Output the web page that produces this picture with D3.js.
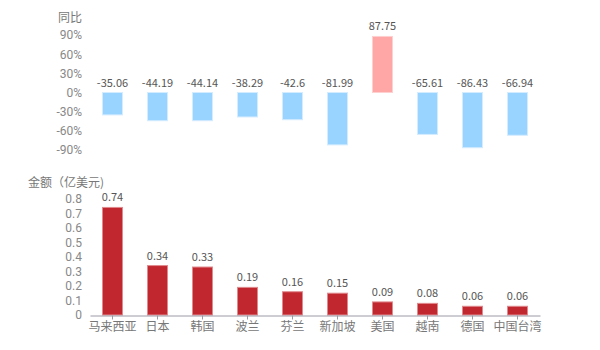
<!DOCTYPE html>
<html>
<head>
<meta charset="utf-8">
<script src="https://cdn.jsdelivr.net/npm/d3@7"></script>
<style>
  body { margin: 0; background: #fff; }
  svg text { font-family: "Noto Sans CJK SC", "Noto Sans", sans-serif; }
</style>
</head>
<body>
<script>
"use strict";
const countries = ["马来西亚", "日本", "韩国", "波兰", "芬兰", "新加坡", "美国", "越南", "德国", "中国台湾"];
const growth = [-35.06, -44.19, -44.14, -38.29, -42.6, -81.99, 87.75, -65.61, -86.43, -66.94];
const amount = [0.74, 0.34, 0.33, 0.19, 0.16, 0.15, 0.09, 0.08, 0.06, 0.06];
const growthTicks = [90, 60, 30, 0, -30, -60, -90];
const amountTicks = [0, 0.1, 0.2, 0.3, 0.4, 0.5, 0.6, 0.7, 0.8];

const width = 600, height = 350;
const svg = d3.select("body").append("svg")
  .attr("width", width)
  .attr("height", height);

const x = d3.scaleBand()
  .domain(countries)
  .range([90, 540])
  .paddingInner(0.5556)
  .paddingOuter(0.2778);

// top chart: year on year
const yTop = d3.scaleLinear().domain([-90, 90]).range([150, 35]);

svg.append("text")
  .attr("x", 82).attr("y", 22)
  .attr("text-anchor", "end")
  .attr("font-size", 12).attr("fill", "#777")
  .text("同比");

const topAxis = svg.append("g")
  .attr("transform", "translate(82,0)")
  .call(d3.axisLeft(yTop).tickValues(growthTicks).tickSize(0).tickPadding(0).tickFormat(d => d + "%"));
topAxis.select(".domain").remove();
topAxis.selectAll("text").attr("font-size", 12).attr("fill", "#888").style("font-family", "Roboto, sans-serif");

svg.append("g").selectAll("rect")
  .data(growth)
  .join("rect")
  .attr("x", (d, i) => x(countries[i]))
  .attr("width", x.bandwidth())
  .attr("y", d => Math.min(yTop(d), yTop(0)))
  .attr("height", d => Math.abs(yTop(d) - yTop(0)))
  .attr("fill", d => d >= 0 ? "#ffa6a6" : "#99d3ff")
  .attr("stroke", d => d >= 0 ? "#ffd0d0" : "#d4ecff")
  .attr("stroke-width", 1);

svg.append("g").selectAll("text")
  .data(growth)
  .join("text")
  .attr("x", (d, i) => x(countries[i]) + x.bandwidth() / 2)
  .attr("y", d => Math.min(yTop(d), yTop(0)) - 6)
  .attr("text-anchor", "middle")
  .attr("font-size", 11).attr("fill", "#555")
  .text(d => d);

// bottom chart: amount
const yBot = d3.scaleLinear().domain([0, 0.8]).range([315, 198.7]);

svg.append("text")
  .attr("x", 28).attr("y", 187)
  .attr("font-size", 12).attr("fill", "#777")
  .text("金额（亿美元)");

const botAxis = svg.append("g")
  .attr("transform", "translate(82,0)")
  .call(d3.axisLeft(yBot).tickValues(amountTicks).tickSize(0).tickPadding(0).tickFormat(d => d));
botAxis.select(".domain").remove();
botAxis.selectAll("text").attr("font-size", 12).attr("fill", "#888").style("font-family", "Roboto, sans-serif");

svg.append("g").selectAll("rect")
  .data(amount)
  .join("rect")
  .attr("x", (d, i) => x(countries[i]))
  .attr("width", x.bandwidth())
  .attr("y", d => yBot(d))
  .attr("height", d => yBot(0) - yBot(d))
  .attr("fill", "#c1272f")
  .attr("stroke", "#e08a8e")
  .attr("stroke-width", 1);

svg.append("g").selectAll("text")
  .data(amount)
  .join("text")
  .attr("x", (d, i) => x(countries[i]) + x.bandwidth() / 2)
  .attr("y", d => yBot(d) - 6)
  .attr("text-anchor", "middle")
  .attr("font-size", 11).attr("fill", "#555")
  .text(d => d);

const xAxis = svg.append("g")
  .attr("transform", "translate(0,315.5)")
  .call(d3.axisBottom(x).tickSize(4).tickPadding(3).tickSizeOuter(0));
xAxis.select(".domain").attr("stroke", "#9a9aa6");
xAxis.selectAll("line").attr("stroke", "#9a9aa6");
xAxis.selectAll("text").attr("font-size", 12).attr("fill", "#777").attr("font-family", null);
</script>
</body>
</html>
